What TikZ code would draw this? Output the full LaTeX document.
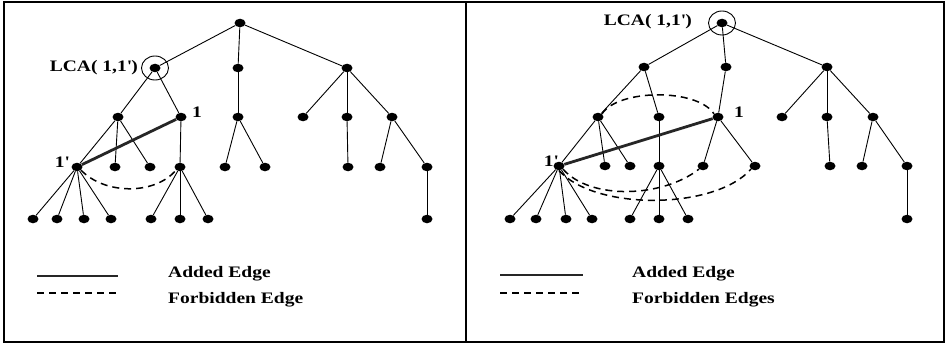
\documentclass[tikz,border=0pt]{standalone}
\usepackage{fontspec}
\setmainfont{Liberation Serif}[FakeStretch=1.22]
\usetikzlibrary{shapes.geometric}
\begin{document}
\begin{tikzpicture}[x=1pt,y=-1pt,
  dot/.style={ellipse,fill=black,draw=none,inner sep=0pt,minimum width=11pt,minimum height=8.5pt},
  tedge/.style={line width=0.9pt},
  added/.style={line width=2.8pt,black!85},
  forbid/.style={line width=1.5pt,dash pattern=on 7pt off 5pt},
  lbl/.style={font=\fontsize{16}{19}\selectfont\bfseries,inner sep=0pt},
  ring/.style={draw,line width=0.9pt,ellipse,minimum width=27pt,minimum height=24pt,inner sep=0pt},
  frame/.style={line width=1.5pt}]
\useasboundingbox (0,0) rectangle (945,345);
\fill[white] (0,0) rectangle (945,345);
% panel frames
\draw[frame] (4,2) rectangle (466,342);
\draw[frame] (466,2) rectangle (944,342);

% ---------- left tree ----------
\node[dot] (L0) at (240,23) {};
\node[dot] (La) at (155,68) {};
\node[dot] (Lb) at (238,68) {};
\node[dot] (Lc) at (347,68) {};
\foreach \n/\x in {Lp/118,Lone/181,Ld/238,Le/303,Lf/347,Lg/392}
  \node[dot] (\n) at (\x,117) {};
\foreach \n/\x in {Lq/77,Lr/115,Ls/150,Lt/180,Lu/225,Lv/265,Lw/348,Lx/380,Ly/427}
  \node[dot] (\n) at (\x,167) {};
\foreach \n/\x in {Lk1/33,Lk2/57,Lk3/84,Lk4/111,Lm1/151,Lm2/180,Lm3/208,Lz/427}
  \node[dot] (\n) at (\x,219) {};
\begin{scope}[tedge]
\foreach \a/\b in {L0/La,L0/Lb,L0/Lc,La/Lp,La/Lone,Lb/Ld,Lc/Le,Lc/Lf,Lc/Lg,
  Lp/Lq,Lp/Lr,Lp/Ls,Lone/Lt,Ld/Lu,Ld/Lv,Lf/Lw,Lg/Lx,Lg/Ly,
  Lq/Lk1,Lq/Lk2,Lq/Lk3,Lq/Lk4,Lt/Lm1,Lt/Lm2,Lt/Lm3,Ly/Lz}
  \draw (\a) -- (\b);
\end{scope}
\node[ring] (Lring) at (La) {};
\node[lbl,anchor=east] (Llca) at (138,68) {LCA( 1,1\textquotesingle)};
\node[lbl] (Ll1) at (197,112) {1};
\node[lbl] (Ll1p) at (62,162) {1\textquotesingle};
\draw[added] (Lq) -- (Lone);
\draw[forbid] (Lq.south east) .. controls (105,195) and (155,195) .. (Lt.south west);

% left legend
\coordinate (La1) at (37,276);  \coordinate (La2) at (118,276);
\coordinate (Lf1) at (37,293);  \coordinate (Lf2) at (118,293);
\draw[added] (La1) -- (La2);
\draw[forbid,line width=1.2pt] (Lf1) -- (Lf2);
\node[lbl,anchor=base west] (Ltxa) at (168,277) {Added Edge};
\node[lbl,anchor=base west] (Ltxf) at (168,303) {Forbidden Edge};

% ---------- right tree ----------
\node[dot] (R0) at (722,23) {};
\node[dot] (Ra) at (644,67) {};
\node[dot] (Rb) at (726,67) {};
\node[dot] (Rc) at (827,67) {};
\foreach \n/\x in {Rp/598,Rd/659,Rone/718,Re/782,Rf/827,Rg/873}
  \node[dot] (\n) at (\x,117) {};
\foreach \n/\x in {Rq/559,Rr/605,Rs/630,Rt/659,Ru/703,Rv/755,Rw/830,Rx/862,Ry/907}
  \node[dot] (\n) at (\x,166) {};
\foreach \n/\x in {Rk1/510,Rk2/536,Rk3/566,Rk4/592,Rm1/630,Rm2/659,Rm3/688,Rz/907}
  \node[dot] (\n) at (\x,219) {};
\begin{scope}[tedge]
\foreach \a/\b in {R0/Ra,R0/Rb,R0/Rc,Ra/Rp,Ra/Rd,Rb/Rone,Rc/Re,Rc/Rf,Rc/Rg,
  Rp/Rq,Rp/Rr,Rp/Rs,Rd/Rt,Rone/Ru,Rone/Rv,Rf/Rw,Rg/Rx,Rg/Ry,
  Rq/Rk1,Rq/Rk2,Rq/Rk3,Rq/Rk4,Rt/Rm1,Rt/Rm2,Rt/Rm3,Ry/Rz}
  \draw (\a) -- (\b);
\end{scope}
\node[ring] (Rring) at (R0) {};
\node[lbl,anchor=east] (Rlca) at (692,22) {LCA( 1,1\textquotesingle)};
\node[lbl] (Rl1) at (739,112) {1};
\node[lbl] (Rl1p) at (551,161) {1\textquotesingle};
\draw[added] (Rq) -- (Rone);
\draw[forbid] (Rp.north east) .. controls (618,89) and (697,88) .. (Rone.north west);
\draw[forbid] (Rq.south east) .. controls (590,200) and (662,198) .. (Ru.south west);
\draw[forbid] (Rq.south) .. controls (595,211) and (715,210) .. (Rv.south west);

% right legend
\coordinate (Ra1) at (500,275);  \coordinate (Ra2) at (583,275);
\coordinate (Rf1) at (500,293);  \coordinate (Rf2) at (583,293);
\draw[added] (Ra1) -- (Ra2);
\draw[forbid,line width=1.2pt] (Rf1) -- (Rf2);
\node[lbl,anchor=base west] (Rtxa) at (632,277) {Added Edge};
\node[lbl,anchor=base west] (Rtxf) at (632,303) {Forbidden Edges};
\end{tikzpicture}
\end{document}
